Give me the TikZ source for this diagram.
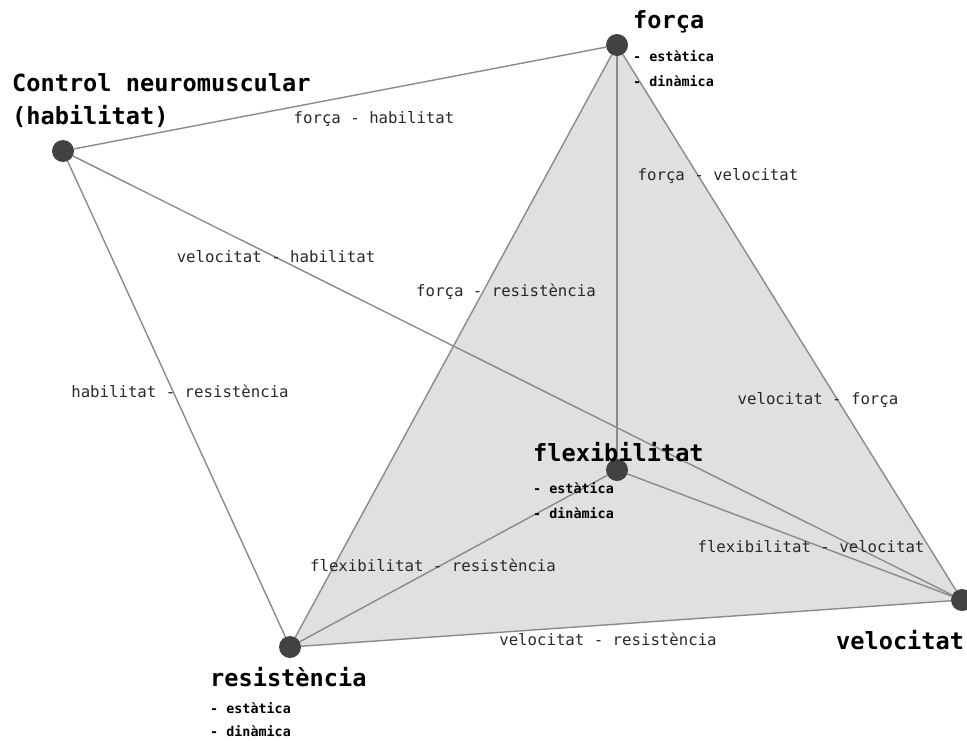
\documentclass[tikz,border=0pt]{standalone}
\usepackage{fontspec}
\setmainfont{DejaVu Sans Mono}
\usetikzlibrary{backgrounds}
\definecolor{edgegray}{RGB}{138,138,138}
\definecolor{facegray}{RGB}{224,224,224}
\definecolor{dotgray}{RGB}{66,66,66}
\definecolor{labelgray}{RGB}{40,40,40}
\tikzset{
  dot/.style={circle,fill=dotgray,inner sep=0pt,minimum size=22pt},
  link/.style={draw=edgegray,line width=1.4pt},
  heading/.style={anchor=west,inner sep=0pt,text=black,font=\fontsize{23.6}{28}\selectfont\bfseries},
  subitem/.style={anchor=west,inner sep=0pt,text=black,font=\fontsize{13.4}{16}\selectfont\bfseries},
  pairlabel/.style={inner sep=0pt,text=labelgray,font=\fontsize{15.7}{18}\selectfont}
}
\begin{document}
\begin{tikzpicture}[x=1pt,y=-1pt]
\useasboundingbox (0,0) rectangle (967,740);

% the five qualities
\node[dot] (F) at (617,45) {};
\node[dot] (C) at (63,151) {};
\node[dot] (X) at (617,470) {};
\node[dot] (R) at (290,647) {};
\node[dot] (V) at (962,600) {};

\begin{scope}[on background layer]
  \fill[facegray] (F.center) -- (R.center) -- (V.center) -- cycle;
  \draw[link] (C) -- (F);
  \draw[link] (C) -- (R);
  \draw[link] (C) -- (V);
  \draw[link] (F) -- (R);
  \draw[link] (F) -- (V);
  \draw[link] (F) -- (X);
  \draw[link] (X) -- (R);
  \draw[link] (X) -- (V);
  \draw[link] (R) -- (V);
\end{scope}

% quality names
\node[heading] (tF) at (633,22) {força};
\node[subitem] (tF1) at (633,56) {- estàtica};
\node[subitem] (tF2) at (633,81) {- dinàmica};

\node[heading] (tC1) at (12,83) {Control neuromuscular};
\node[heading] (tC2) at (12,116) {(habilitat)};

\node[heading] (tX) at (533,452) {flexibilitat};
\node[subitem] (tX1) at (533,488) {- estàtica};
\node[subitem] (tX2) at (533,513) {- dinàmica};

\node[heading] (tR) at (210,677) {resistència};
\node[subitem] (tR1) at (210,708) {- estàtica};
\node[subitem] (tR2) at (210,731) {- dinàmica};

\node[heading] (tV) at (836,640) {velocitat};

% pair labels
\node[pairlabel] (lFC) at (374,119) {força - habilitat};
\node[pairlabel] (lFV) at (718,176) {força - velocitat};
\node[pairlabel] (lVC) at (276,257) {velocitat - habilitat};
\node[pairlabel] (lFR) at (506,292) {força - resistència};
\node[pairlabel] (lCR) at (180,391) {habilitat - resistència};
\node[pairlabel] (lVF) at (818,400) {velocitat - força};
\node[pairlabel] (lXR) at (433,565) {flexibilitat - resistència};
\node[pairlabel] (lXV) at (811,547) {flexibilitat - velocitat};
\node[pairlabel] (lVR) at (608,639) {velocitat - resistència};
\end{tikzpicture}
\end{document}
